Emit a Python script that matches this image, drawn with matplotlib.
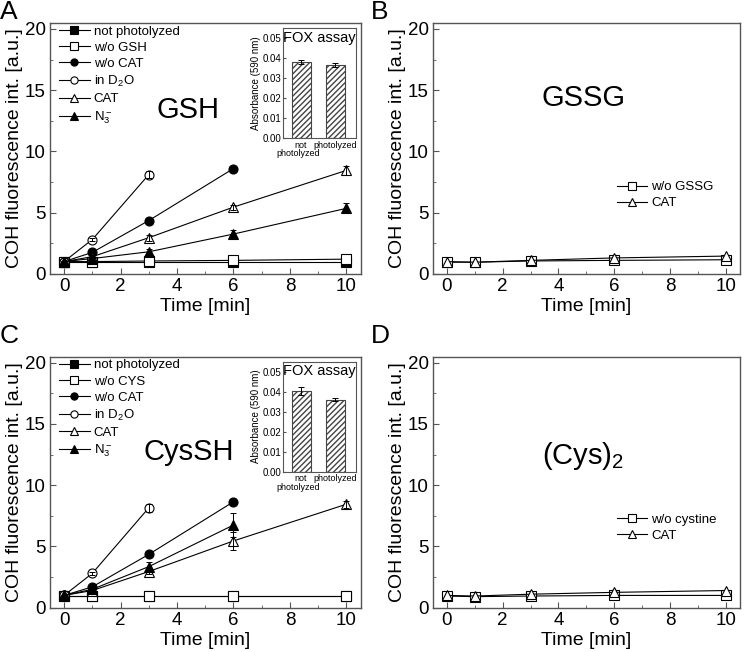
import numpy as np
import matplotlib.pyplot as plt
import matplotlib.transforms as mtransforms
from matplotlib.ticker import MultipleLocator

plt.rcParams['font.family'] = ['Liberation Sans', 'DejaVu Sans']
plt.rcParams['mathtext.fontset'] = 'custom'
plt.rcParams['mathtext.rm'] = 'Liberation Sans'
plt.rcParams['mathtext.it'] = 'Liberation Sans:italic'
plt.rcParams['mathtext.default'] = 'regular'

# time points [min]
t_full = [0, 1, 3, 6, 10]
t_six = [0, 1, 3, 6]
t_three = [0, 1, 3]

# panel A: GSH
gsh_not_photo = [0.95, 0.95, 0.95, 0.95, 0.95]
gsh_wo_gsh = [1.0, 1.0, 1.05, 1.1, 1.2]
gsh_wo_cat = [1.0, 1.75, 4.35, 8.6]
gsh_d2o = [1.0, 2.8, 8.1]
gsh_d2o_err = [0.05, 0.15, 0.3]
gsh_cat = [1.0, 1.4, 2.95, 5.45, 8.45]
gsh_cat_err = [0.05, 0.1, 0.25, 0.2, 0.35]
gsh_n3 = [1.0, 1.25, 1.8, 3.25, 5.35]
gsh_n3_err = [0.05, 0.1, 0.2, 0.3, 0.4]

# panel B: GSSG
gssg_wo = [0.95, 0.95, 1.05, 1.1, 1.15]
gssg_cat = [1.0, 0.95, 1.1, 1.3, 1.45]

# panel C: CysSH
cys_not_photo = [0.95, 0.95, 0.95, 0.95, 0.95]
cys_wo_cys = [0.95, 0.95, 0.95, 0.95, 0.95]
cys_wo_cat = [1.0, 1.7, 4.35, 8.65]
cys_d2o = [1.0, 2.8, 8.15]
cys_d2o_err = [0.05, 0.15, 0.3]
cys_cat = [1.0, 1.4, 2.95, 5.45, 8.45]
cys_cat_err = [0.05, 0.1, 0.2, 0.7, 0.3]
cys_n3 = [1.0, 1.5, 3.35, 6.75]
cys_n3_err = [0.05, 0.1, 0.35, 0.95]

# panel D: cystine
cystine_wo = [0.95, 0.9, 0.95, 1.0, 1.0]
cystine_cat = [1.0, 0.95, 1.1, 1.25, 1.4]

# FOX assay insets
fox_labels = ['not', 'photolyzed']
fox_gsh = [0.038, 0.0362]
fox_gsh_err = [0.001, 0.001]
fox_cys = [0.0405, 0.036]
fox_cys_err = [0.002, 0.0006]

spine_col = '#555555'


def style_main(ax):
    ax.set_xlim(-0.5, 10.5)
    ax.set_ylim(0, 20.5)
    ax.xaxis.set_major_locator(MultipleLocator(2))
    ax.xaxis.set_minor_locator(MultipleLocator(1))
    ax.yaxis.set_major_locator(MultipleLocator(5))
    ax.yaxis.set_minor_locator(MultipleLocator(2.5))
    ax.tick_params(which='both', direction='in', top=False, right=False,
                   labelsize=13.5, color=spine_col, pad=3)
    ax.tick_params(which='major', length=4)
    ax.tick_params(which='minor', length=2.5)
    for s in ax.spines.values():
        s.set_color(spine_col)
        s.set_linewidth(1.0)
    ax.set_xlabel('Time [min]', fontsize=14, labelpad=2)
    ax.set_ylabel('COH fluorescence int. [a.u.]', fontsize=14, labelpad=1)


def series(ax, x, y, marker, filled, label, err=None):
    mfc = 'black' if filled else 'white'
    ax.plot(x, y, color='black', lw=0.8, marker=marker, ms=6.5, mfc=mfc,
            mec='black', mew=0.8, label=label, zorder=2)
    if err is not None:
        ax.errorbar(x, y, yerr=err, fmt='none', ecolor='black',
                    elinewidth=0.7, capsize=2, capthick=0.7, zorder=3)


def fox_inset(ax, vals, errs):
    ins = ax.inset_axes([0.75, 0.542, 0.235, 0.438])
    ins.bar([1, 2], vals, width=0.55, color='white', edgecolor='#444444',
            hatch='//////', linewidth=0.8, yerr=errs, capsize=2,
            error_kw=dict(elinewidth=0.7, capthick=0.7))
    ins.set_xlim(0.47, 2.6)
    ins.set_ylim(0, 0.055)
    ins.set_yticks([0, 0.01, 0.02, 0.03, 0.04, 0.05])
    ins.set_yticklabels(['0.00', '0.01', '0.02', '0.03', '0.04', '0.05'])
    ins.set_xticks([1, 2])
    ins.set_xticklabels(fox_labels)
    ins.tick_params(axis='y', direction='in', labelsize=7, length=2.5,
                    color=spine_col, pad=1)
    ins.tick_params(axis='x', length=0, labelsize=6.5, pad=2)
    # second line of the first bar label
    trans = mtransforms.blended_transform_factory(ins.transData, ins.transAxes)
    ins.text(0.92, -0.1, 'photolyzed', transform=trans, ha='center',
             va='top', fontsize=6.5)
    ins.set_ylabel('Absorbance (590 nm)', fontsize=7, labelpad=1)
    for s in ins.spines.values():
        s.set_color(spine_col)
    ins.text(0.5, 0.975, 'FOX assay', transform=ins.transAxes, ha='center',
             va='top', fontsize=10.5)


fig = plt.figure(figsize=(7.45, 6.52), dpi=100)
axA = fig.add_axes([0.067, 0.580, 0.417, 0.385])
axB = fig.add_axes([0.581, 0.580, 0.412, 0.385])
axC = fig.add_axes([0.067, 0.068, 0.417, 0.385])
axD = fig.add_axes([0.581, 0.068, 0.412, 0.385])

# A
series(axA, t_full, gsh_not_photo, 's', True, 'not photolyzed')
series(axA, t_full, gsh_wo_gsh, 's', False, 'w/o GSH')
series(axA, t_six, gsh_wo_cat, 'o', True, 'w/o CAT')
series(axA, t_three, gsh_d2o, 'o', False, 'in D$_2$O', gsh_d2o_err)
series(axA, t_full, gsh_cat, '^', False, 'CAT', gsh_cat_err)
series(axA, t_full, gsh_n3, '^', True, 'N$_3^-$', gsh_n3_err)
axA.text(4.4, 13.4, 'GSH', fontsize=21, ha='center', va='center')
fox_inset(axA, fox_gsh, fox_gsh_err)

# B
series(axB, t_full, gssg_wo, 's', False, 'w/o GSSG')
series(axB, t_full, gssg_cat, '^', False, 'CAT')
axB.text(4.9, 14.4, 'GSSG', fontsize=21, ha='center', va='center')

# C
series(axC, t_full, cys_not_photo, 's', True, 'not photolyzed')
series(axC, t_full, cys_wo_cys, 's', False, 'w/o CYS')
series(axC, t_six, cys_wo_cat, 'o', True, 'w/o CAT')
series(axC, t_three, cys_d2o, 'o', False, 'in D$_2$O', cys_d2o_err)
series(axC, t_full, cys_cat, '^', False, 'CAT', cys_cat_err)
series(axC, t_six, cys_n3, '^', True, 'N$_3^-$', cys_n3_err)
axC.text(4.4, 12.7, 'CysSH', fontsize=21, ha='center', va='center')
fox_inset(axC, fox_cys, fox_cys_err)

# D
series(axD, t_full, cystine_wo, 's', False, 'w/o cystine')
series(axD, t_full, cystine_cat, '^', False, 'CAT')
axD.text(4.9, 12.4, '(Cys)$_2$', fontsize=21, ha='center', va='center')

for ax in (axA, axB, axC, axD):
    style_main(ax)

leg_kw = dict(frameon=False, fontsize=9.5, handlelength=2.3, handletextpad=0.3,
              borderpad=0.0, borderaxespad=0.0, labelspacing=0.3,
              markerscale=0.8)
axA.legend(loc='upper left', bbox_to_anchor=(0.03, 0.99), **leg_kw)
axC.legend(loc='upper left', bbox_to_anchor=(0.03, 0.99), **leg_kw)
axB.legend(loc='upper left', bbox_to_anchor=(0.6, 0.37), **leg_kw)
axD.legend(loc='upper left', bbox_to_anchor=(0.6, 0.375), **leg_kw)

for lbl, x, y in (('A', 0.0, 1.0), ('B', 0.498, 1.0),
                  ('C', 0.0, 0.503), ('D', 0.498, 0.503)):
    fig.text(x, y, lbl, fontsize=19, ha='left', va='top')

fig.savefig('out.png', dpi=100)
